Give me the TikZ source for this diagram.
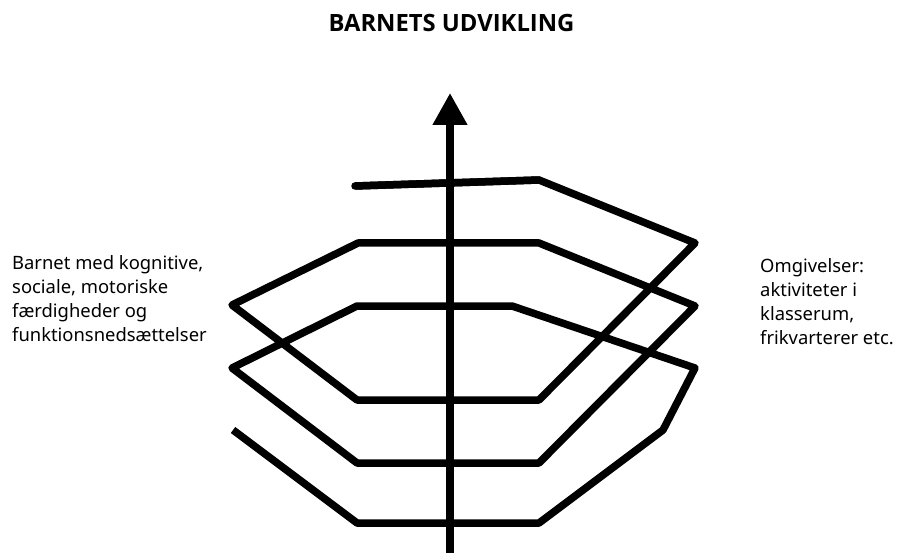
\documentclass[tikz,border=0pt]{standalone}
\usepackage{fontspec}
\setmainfont{Noto Sans}
\newfontfamily\titlefont{Open Sans}
\usetikzlibrary{arrows.meta}
\begin{document}
\begin{tikzpicture}[x=1pt,y=-1pt,
  spiral/.style={line width=7.5pt,line join=round,line cap=butt},
  axis/.style={line width=7.5pt,-{Triangle[length=32pt,width=33pt]}},
  label/.style={inner sep=0pt,align=left,font=\fontsize{18.4}{24}\selectfont},
  title/.style={inner sep=0pt,font=\titlefont\fontsize{23.8}{28}\selectfont\bfseries}]
\useasboundingbox[fill=white] (0,0) rectangle (899,553);
\node[title,anchor=base] (t) at (451.5,32) {BARNETS UDVIKLING};
\node[label,anchor=north west] (l) at (12,255) {Barnet med kognitive,\\sociale, motoriske\\færdigheder og\\funktionsnedsættelser};
\node[label,anchor=north west] (r) at (760,258) {Omgivelser:\\aktiviteter i\\klasserum,\\frikvarterer etc.};
\coordinate (s0) at (233,430);
\coordinate (e) at (355,186);
\coordinate (e1) at (539,180);
\draw[spiral] (s0) -- (357,523) -- (539,523) -- (663,430) -- (695,368)
  -- (512,306) -- (357,306) -- (232,368) -- (357,463) -- (539,463)
  -- (695,306) -- (539,243) -- (358,243) -- (232,305) -- (357,400)
  -- (539,400) -- (695,243) -- (e1) -- (e);
\draw[spiral,line cap=round] (e1) -- (e);
\coordinate (ab) at (450,553);
\coordinate (at) at (450,93);
\draw[axis] (ab) -- (at);
\end{tikzpicture}
\end{document}
